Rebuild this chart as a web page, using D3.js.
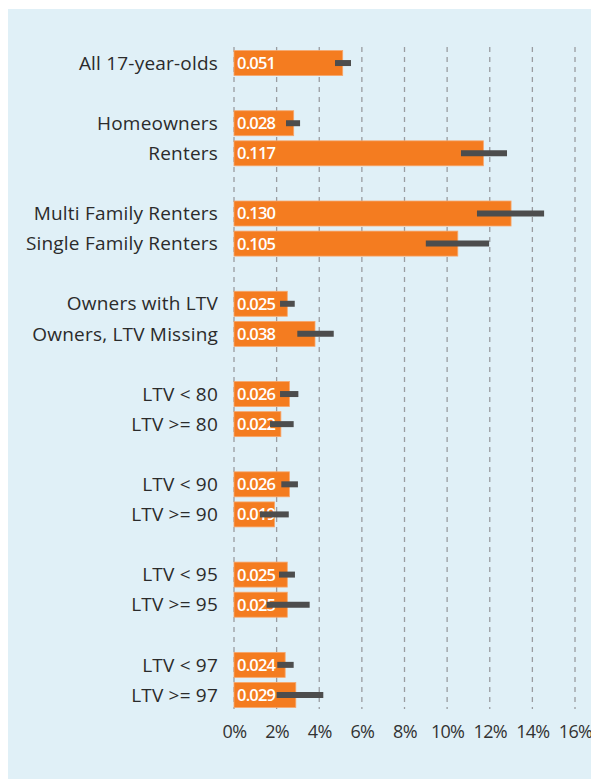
<!DOCTYPE html>
<html>
<head>
<meta charset="utf-8">
<script src="https://cdn.jsdelivr.net/npm/d3@7"></script>
<style>
  body { margin: 0; background: #fff; }
  svg { display: block; }
</style>
</head>
<body>
<div id="chart"></div>
<script>
// groups of rows, a blank row goes between groups
const groups = [
  ['All 17-year-olds'],
  ['Homeowners', 'Renters'],
  ['Multi Family Renters', 'Single Family Renters'],
  ['Owners with LTV', 'Owners, LTV Missing'],
  ['LTV < 80', 'LTV >= 80'],
  ['LTV < 90', 'LTV >= 90'],
  ['LTV < 95', 'LTV >= 95'],
  ['LTV < 97', 'LTV >= 97']
]
const values = [0.051, 0.028, 0.117, 0.130, 0.105, 0.025, 0.038, 0.026, 0.022, 0.026, 0.019, 0.025, 0.025, 0.024, 0.029]
const lower = [0.0474, 0.0244, 0.1065, 0.114, 0.090, 0.0216, 0.0297, 0.0216, 0.0169, 0.0222, 0.0122, 0.0211, 0.0153, 0.0203, 0.020]
const upper = [0.0549, 0.0310, 0.1281, 0.1455, 0.1197, 0.0285, 0.0468, 0.0302, 0.0280, 0.0300, 0.0257, 0.0286, 0.0355, 0.0280, 0.0419]
const ticks = [0, 0.02, 0.04, 0.06, 0.08, 0.10, 0.12, 0.14, 0.16]

const width = 591
const height = 780
const margin = { top: 48, left: 234, right: 16, bottom: 72 }

// build row keys with spacer rows
const rows = []
groups.forEach((g, gi) => {
  if (gi > 0) rows.push('gap' + gi)
  g.forEach(label => rows.push(label))
})
const labels = groups.flat()
const data = labels.map((label, i) => ({ label, value: values[i], lo: lower[i], hi: upper[i] }))

const svg = d3.select('#chart').append('svg')
  .attr('width', width)
  .attr('height', height)

svg.append('rect')
  .attr('x', 8).attr('y', 9)
  .attr('width', width - 8).attr('height', 770)
  .attr('fill', '#e0f0f7')

const x = d3.scaleLinear()
  .domain([0, 0.16])
  .range([margin.left, 575])

const y = d3.scaleBand()
  .domain(rows)
  .range([margin.top, 710])
  .paddingInner(0.17)
  .paddingOuter(0.085)

const font = "'Open Sans', sans-serif"

// grid
svg.append('g')
  .selectAll('line')
  .data(ticks)
  .enter().append('line')
  .attr('x1', d => x(d)).attr('x2', d => x(d))
  .attr('y1', 47).attr('y2', 709)
  .attr('stroke', '#9a9ca0')
  .attr('stroke-width', 1.3)
  .attr('stroke-dasharray', '5,5')

// x axis labels
const xAxis = svg.append('g')
  .attr('transform', 'translate(0,' + 725 + ')')
  .call(d3.axisBottom(x).tickValues(ticks).tickFormat(d3.format('.0%')).tickSize(0).tickPadding(0))
xAxis.select('.domain').remove()
xAxis.selectAll('text')
  .attr('dy', '0.71em')
  .attr('fill', '#333')
  .style('font-family', font)
  .style('font-size', '18px')
  .style('letter-spacing', '-0.7px')

// category labels
svg.append('g')
  .selectAll('text')
  .data(data)
  .enter().append('text')
  .attr('x', 218)
  .attr('y', d => y(d.label) + y.bandwidth() / 2)
  .attr('dy', '0.35em')
  .attr('text-anchor', 'end')
  .attr('fill', '#2b2b2b')
  .style('font-family', font)
  .style('font-size', '19px')
  .style('letter-spacing', '0.2px')
  .text(d => d.label)

// bars
svg.append('g')
  .selectAll('rect')
  .data(data)
  .enter().append('rect')
  .attr('x', x(0))
  .attr('y', d => y(d.label))
  .attr('width', d => x(d.value) - x(0))
  .attr('height', y.bandwidth())
  .attr('fill', '#f47c20')
  .attr('stroke', '#f7a66b')
  .attr('stroke-width', 0.8)

// value labels
svg.append('g')
  .selectAll('text')
  .data(data)
  .enter().append('text')
  .attr('x', x(0) + 3)
  .attr('y', d => y(d.label) + y.bandwidth() / 2)
  .attr('dy', '0.36em')
  .attr('fill', '#fff')
  .style('font-family', font)
  .style('font-weight', 600)
  .style('font-size', '16.5px')
  .style('letter-spacing', '-0.8px')
  .text(d => d3.format('.3f')(d.value))

// error bars
svg.append('g')
  .selectAll('line')
  .data(data)
  .enter().append('line')
  .attr('x1', d => x(d.lo))
  .attr('x2', d => x(d.hi))
  .attr('y1', d => y(d.label) + y.bandwidth() / 2)
  .attr('y2', d => y(d.label) + y.bandwidth() / 2)
  .attr('stroke', '#4d4d4d')
  .attr('stroke-width', 6)
</script>
</body>
</html>
